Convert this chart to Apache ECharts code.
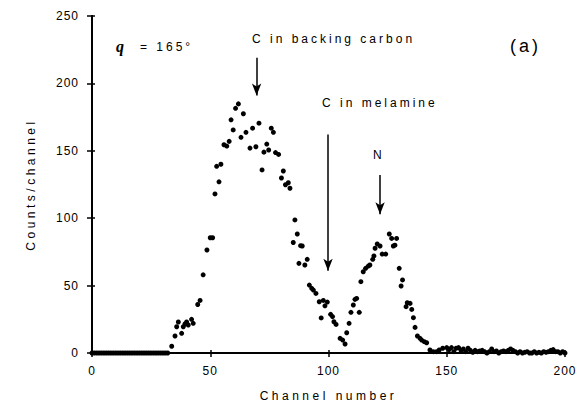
<!DOCTYPE html>
<html>
<head>
<meta charset="utf-8">
<script src="https://cdn.jsdelivr.net/npm/echarts@6/dist/echarts.min.js"></script>
<style>
html,body{margin:0;padding:0;background:#fff;}
#chart{width:579px;height:416px;}
#chart text{letter-spacing:3px;}
</style>
</head>
<body>
<div id="chart"></div>
<script>
// Channel numbers and counts
const channels = [
  0,1,2,3,4,5,6,7,8,9,10,11,12,13,14,15,16,17,18,19,20,21,22,23,24,25,26,27,28,29,30,31,32,
  33.7,35.1,35.8,36.5,37.9,38.6,39.3,40,40.7,42.1,42.8,44.7,45.7,47,48.6,50,51,52,52.7,53.7,54.5,
  55.8,57,58,58.8,59.7,60.7,61.9,63,64,65.1,66.8,67.9,69.3,70.6,71.9,72.7,73.9,74.7,75.8,76.7,
  77.6,78.9,80.1,80.9,81.8,83,83.7,85.1,85.8,86.8,87.5,88.2,88.9,90,91,91.9,92.9,93.6,94.7,96.1,
  96.9,97.8,98.5,99.5,100.9,101.7,102.3,103.2,104.9,106,107,107.7,108.7,109.5,110.5,111.2,111.9,
  113,113.7,114.7,115.7,116.8,117.5,118.7,119.2,119.7,120.6,121.8,122.7,124.2,125.7,126.7,127.4,
  128.1,128.8,129.9,130.7,131.3,132.8,133.3,134.5,135.2,135.9,136.6,137.6,138.7,139.4,140.5,141.5,
  142.9,144.3,145.7,146.8,148.3,
  150,151,152,153,154,155,156,157,158,159,160,161,162,163,164,165,166,167,168,169,170,171,172,173,
  174,175,176,177,178,179,180,181,182,183,184,185,186,187,188,189,190,191,192,193,194,195,196,197,
  198,199,200
];
const counts = [
  0,0,0,0,0,0,0,0,0,0,0,0,0,0,0,0,0,0,0,0,0,0,0,0,0,0,0,0,0,0,0,0,0,
  5,12.6,19.5,23,14.6,19.5,21.5,23,20.8,25,22,36,39,58,76.4,85.5,85.5,118,138.5,127,140,
  154.5,153.5,157,173,165.5,181.5,184.8,160,177.5,163.7,152,166.8,153,170.5,135.8,149,155,150.6,166.8,163.7,
  148.7,147.3,129.8,135,124.8,126.3,122.2,82,98.7,88.3,66.5,79.6,79.4,65.3,69.5,50.4,48,46.7,44.2,38,
  26,39,35,37.8,28.7,27,23.2,21.2,10.9,9.6,6.7,15,22,30.2,35.6,39.8,40.5,
  30.2,52.9,60.3,62.8,64.5,65.3,69.5,72,77.7,80.9,79.4,73.4,73.4,88.3,85,79.4,
  80,85,62.8,49.7,54.2,34.4,37.3,36.8,32.3,26.2,19,12.6,10.9,9.6,8.4,7.6,
  2.2,1,1,2.2,3.5,
  4,2.5,4,1,3.5,4,2,3,1,3.5,2,0.5,2,1,1.5,2,1,0,1,3,1,1.5,0,1,
  1.5,1,2,3,2,1,0,1,0,0.5,1,0,0,1,0,0.5,0,1,0.5,1,2,2.5,1,1,
  0,1,0
];
const xTicks = [0, 50, 100, 150, 200];
const yTicks = [0, 50, 100, 150, 200, 250];
// Annotation arrows: [channel, countFrom, countTo]
const arrows = [
  [69.6, 219, 191],
  [99.8, 162, 61],
  [121.8, 132, 103]
];

const points = channels.map((c, i) => [c, counts[i]]);
const FONT = '"Liberation Sans", Arial, sans-serif';

const chart = echarts.init(document.getElementById('chart'), null, {renderer: 'svg'});
chart.setOption({
  animation: false,
  backgroundColor: '#fff',
  grid: {left: 92, right: 14, top: 16, bottom: 63},
  xAxis: [{
    type: 'value', min: xTicks[0], max: xTicks[xTicks.length - 1], interval: 50,
    position: 'bottom',
    axisLine: {lineStyle: {color: '#000', width: 2}},
    axisTick: {inside: false, length: 4, lineStyle: {color: '#000', width: 1.5}},
    axisLabel: {color: '#000', fontSize: 12, fontFamily: FONT, margin: 12},
    splitLine: {show: false},
    name: 'Channel number', nameLocation: 'middle', nameGap: 37,
    nameTextStyle: {color: '#000', fontSize: 12, fontFamily: FONT}
  }, {
    type: 'value', min: 0, max: 200, interval: 50, position: 'top',
    axisLine: {show: true, lineStyle: {color: '#000', width: 2}},
    axisTick: {show: true, length: 3, lineStyle: {color: '#000', width: 1.5}},
    axisLabel: {show: false}, splitLine: {show: false}
  }],
  yAxis: [{
    type: 'value', min: yTicks[0], max: yTicks[yTicks.length - 1], interval: 50,
    axisLine: {show: true, lineStyle: {color: '#000', width: 2}},
    axisTick: {show: true, length: 5, lineStyle: {color: '#000', width: 1.5}},
    axisLabel: {color: '#000', fontSize: 12, fontFamily: FONT, margin: 13},
    splitLine: {show: false},
    name: 'Counts/channel', nameLocation: 'middle', nameGap: 55, nameRotate: 90,
    nameTextStyle: {color: '#000', fontSize: 12, fontFamily: FONT}
  }, {
    type: 'value', min: 0, max: 250, interval: 50, position: 'right',
    axisLine: {show: true, lineStyle: {color: '#000', width: 2}},
    axisTick: {show: true, length: 3, lineStyle: {color: '#000', width: 1.5}},
    axisLabel: {show: false}, splitLine: {show: false}
  }],
  series: [{
    type: 'scatter',
    data: points,
    symbol: 'circle',
    symbolSize: 5,
    itemStyle: {color: '#000', opacity: 1},
    markLine: {
      silent: true,
      symbol: ['none', 'arrow'],
      symbolSize: [7, 12],
      label: {show: false},
      lineStyle: {color: '#000', width: 1.5, type: 'solid'},
      data: arrows.map(a => [{coord: [a[0], a[1]]}, {coord: [a[0], a[2]]}])
    }
  }],
  graphic: [
    {type: 'text', left: 116, top: 38, style: {text: 'q', font: 'italic bold 16px "Liberation Serif", serif', fill: '#000'}},
    {type: 'text', left: 140, top: 41, style: {text: '= 165°', font: '12px ' + FONT, fill: '#000'}},
    {type: 'text', left: 252, top: 33, style: {text: 'C in backing carbon', font: '12px ' + FONT, fill: '#000'}},
    {type: 'text', left: 322, top: 97, style: {text: 'C in melamine', font: '12px ' + FONT, fill: '#000'}},
    {type: 'text', left: 373, top: 149, style: {text: 'N', font: '12px ' + FONT, fill: '#000'}},
    {type: 'text', left: 510, top: 37, style: {text: '(a)', font: '18px ' + FONT, fill: '#000'}}
  ]
});

function spacing() {
  document.querySelectorAll('#chart text').forEach(t => {
    const s = t.textContent.trim();
    if (/^\d+$/.test(s)) t.style.letterSpacing = '1px';
    else if (s === 'q') t.style.letterSpacing = '0px';
    else if (s === 'Channel number' || s === 'Counts/channel') t.style.letterSpacing = '3.5px';
    else t.style.letterSpacing = '3px';
  });
}
chart.on('finished', spacing);
spacing();
</script>
</body>
</html>
